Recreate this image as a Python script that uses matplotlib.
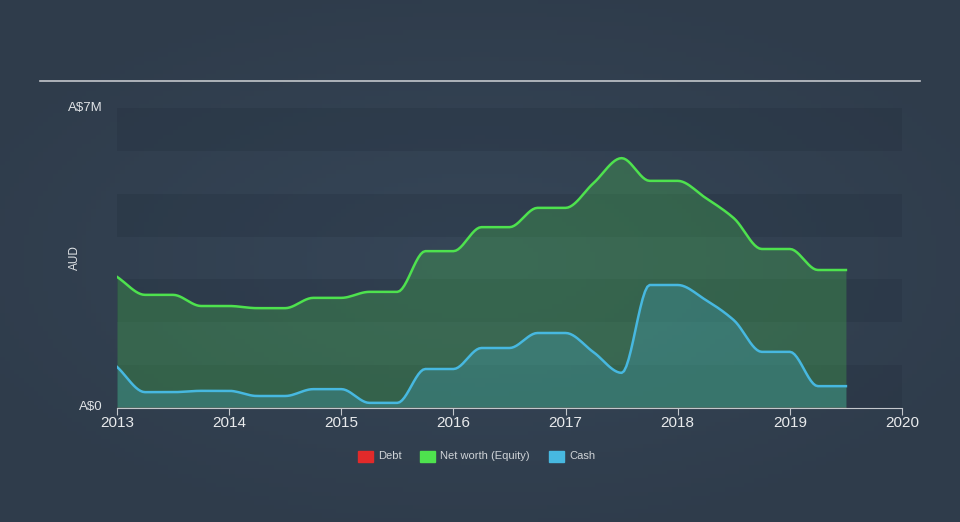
import matplotlib
matplotlib.use('Agg')
import matplotlib.pyplot as plt
import numpy as np

plt.rcParams['font.family'] = ['Liberation Sans', 'DejaVu Sans']

# Data (A$ millions), quarterly reports
years = [2013.0, 2013.25, 2013.5, 2013.75, 2014.0, 2014.25, 2014.5, 2014.75,
         2015.0, 2015.25, 2015.5, 2015.75, 2016.0, 2016.25, 2016.5, 2016.75,
         2017.0, 2017.25, 2017.5, 2017.75, 2018.0, 2018.25, 2018.5, 2018.75,
         2019.0, 2019.25, 2019.5]
net_worth = [3.06, 2.64, 2.64, 2.38, 2.38, 2.33, 2.33, 2.57,
             2.57, 2.71, 2.71, 3.66, 3.66, 4.22, 4.22, 4.67,
             4.67, 5.25, 5.83, 5.30, 5.30, 4.90, 4.43, 3.71,
             3.71, 3.22, 3.22]
cash = [0.96, 0.37, 0.37, 0.40, 0.40, 0.28, 0.28, 0.44,
        0.44, 0.12, 0.12, 0.91, 0.91, 1.40, 1.40, 1.75,
        1.75, 1.30, 0.82, 2.87, 2.87, 2.52, 2.05, 1.31,
        1.31, 0.51, 0.51]
debt = [0.0] * len(years)

x_ticks = [2013, 2014, 2015, 2016, 2017, 2018, 2019, 2020]


def monotone(x, y, n=12):
    """Monotone cubic curve through the points (like d3 curveMonotoneX)"""
    x = np.asarray(x, float)
    y = np.asarray(y, float)
    h = np.diff(x)
    d = np.diff(y) / h
    m = np.zeros_like(y)
    m[0], m[-1] = d[0], d[-1]
    for i in range(1, len(y) - 1):
        if d[i - 1] * d[i] <= 0:
            m[i] = 0
        else:
            m[i] = (3 * (h[i - 1] + h[i])) / ((2 * h[i] + h[i - 1]) / d[i - 1] + (h[i] + 2 * h[i - 1]) / d[i])
    xs, ys = [], []
    for i in range(len(x) - 1):
        t = np.linspace(0, 1, n, endpoint=False)
        h00 = 2 * t**3 - 3 * t**2 + 1
        h10 = t**3 - 2 * t**2 + t
        h01 = -2 * t**3 + 3 * t**2
        h11 = t**3 - t**2
        xs.append(x[i] + t * h[i])
        ys.append(h00 * y[i] + h10 * h[i] * m[i] + h01 * y[i + 1] + h11 * h[i] * m[i + 1])
    xs.append([x[-1]])
    ys.append([y[-1]])
    return np.concatenate(xs), np.concatenate(ys)


fig = plt.figure(figsize=(9.6, 5.22), dpi=100)

# background gradient
bg = fig.add_axes([0, 0, 1, 1])
gx = np.linspace(-1, 1, 200)
gy = np.linspace(-1, 1, 120)
GX, GY = np.meshgrid(gx, gy)
r = np.clip(np.sqrt(GX**2 * 0.7 + GY**2 * 0.8), 0, 1)
c0 = np.array([0x36, 0x46, 0x58]) / 255
c1 = np.array([0x2f, 0x3c, 0x4b]) / 255
img = c0[None, None, :] * (1 - r[..., None]) + c1[None, None, :] * r[..., None]
bg.imshow(img, aspect='auto', extent=[0, 1, 0, 1])
bg.axis('off')
bg.plot([40 / 960, 920 / 960], [1 - 81 / 522] * 2, color='#c3c7cc', lw=1.2)

ax = fig.add_axes([117 / 960, 1 - 408 / 522, 785 / 960, 300 / 522])
ax.set_facecolor('none')
ax.set_xlim(2013, 2020)
ax.set_ylim(0, 7)

for b in [0, 2, 4, 6]:
    ax.axhspan(b, b + 1, color='#1e2a38', alpha=0.22, lw=0)

nx, ny = monotone(years, net_worth)
cx, cy = monotone(years, cash)
ax.fill_between(nx, 0, ny, color='#4ee24e', alpha=0.24, lw=0)
ax.fill_between(cx, 0, cy, color='#47b8e0', alpha=0.23, lw=0)
ax.plot(nx, ny, color='#4ee24e', lw=1.8)
ax.plot(cx, cy, color='#47b8e0', lw=1.8)
ax.plot(years, debt, color='#e22a2a', lw=1.0, alpha=0.6)

for s in ['top', 'right', 'left']:
    ax.spines[s].set_visible(False)
ax.spines['bottom'].set_color('#c3c7cc')
ax.set_xticks(x_ticks)
ax.set_xticklabels([str(t) for t in x_ticks])
ax.tick_params(axis='x', colors='#c3c7cc', labelcolor='#e8eaec', length=5, labelsize=11, pad=1)
ax.set_yticks([])

fig.text(103 / 960, 1 - 108 / 522, 'A$7M', color='#e0e3e6', fontsize=9.5, ha='right', va='center')
fig.text(103 / 960, 1 - 407 / 522, 'A$0', color='#e0e3e6', fontsize=9.5, ha='right', va='center')
fig.text(75 / 960, 1 - 258 / 522, 'AUD', color='#e0e3e6', fontsize=8.5, rotation=90, ha='center', va='center')

# legend
legend_items = [('#e22a2a', 'Debt', 358), ('#4ee24e', 'Net worth (Equity)', 420), ('#47b8e0', 'Cash', 549)]
for col, lab, px in legend_items:
    fig.patches.append(plt.Rectangle((px / 960, 1 - 462 / 522), 15 / 960, 11 / 522,
                                     transform=fig.transFigure, color=col))
    fig.text((px + 20) / 960, 1 - 456 / 522, lab, color='#d0d4d8', fontsize=8, va='center')

plt.savefig('out.png', dpi=100)
